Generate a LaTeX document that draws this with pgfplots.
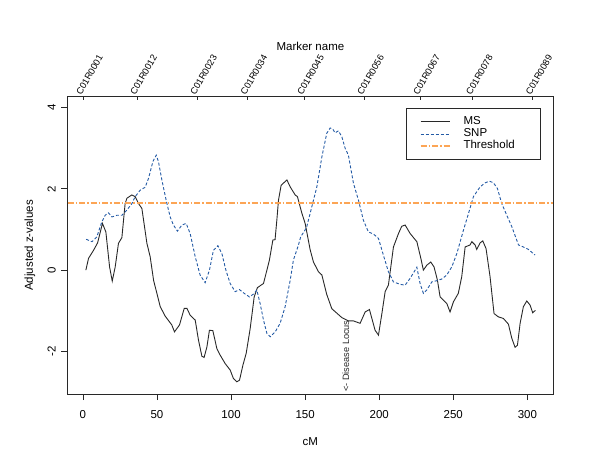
\documentclass[border=0pt]{standalone}
\usepackage{fontspec}
\setmainfont{Liberation Sans}
\usepackage{pgfplots}
\pgfplotsset{compat=1.18}
\definecolor{snpblue}{RGB}{35,90,165}
\definecolor{throrange}{RGB}{252,165,85}
\definecolor{rblack}{RGB}{40,40,40}
\begin{document}
\fontsize{11.5bp}{13.8bp}\selectfont
\begin{tikzpicture}
\begin{axis}[name=ax, scale only axis, width=485.8bp, height=297.3bp,
  xmin=-10.4, xmax=317.5, ymin=-3.05, ymax=4.27,
  axis line style={line width=0.8bp, rblack},
  xtick={0,50,...,300}, ytick={-2,0,2,4},
  xtick pos=lower, ytick pos=left, tick align=outside, major tick length=6bp,
  tick style={line width=0.8bp, rblack},
  /pgf/number format/assume math mode=true,
  ticklabel style={font=\fontsize{11.5bp}{13.8bp}\selectfont},
  xticklabel style={anchor=center, yshift=-14.3bp},
  yticklabel style={anchor=center, xshift=-9.8bp, rotate=90},
  xlabel={cM}, ylabel={Adjusted z-values},
  xlabel style={at={(axis description cs:0.5,-0.1615)}, anchor=center},
  ylabel style={at={(axis description cs:-0.0776,0.5)}, anchor=center},
  legend style={at={(0.974,0.961)}, anchor=north east, draw=rblack, line width=0.8bp,
    inner xsep=13.7bp, inner ysep=7bp, column sep=13bp, row sep=0pt,
    nodes={inner sep=0pt, text height=8.5bp, text depth=3.7bp, text width=63bp, align=left},
    font=\fontsize{11.5bp}{13.8bp}\selectfont},
  legend cell align=left,
  legend image code/.code={\draw[#1] (0bp,0bp) -- (29bp,0bp);},
]
\addplot[rblack, line width=0.9bp] coordinates {
(2.0,0.0) (3.8,0.29) (7.2,0.49) (9.9,0.67) (13.2,1.15) (15.5,0.94) (18,0.08) (19.8,-0.27)
(21.8,0.08) (24,0.66) (26.3,0.8) (28.5,1.64) (29.7,1.77) (33,1.85) (35.3,1.81) (37.5,1.64)
(39.8,1.52) (43.2,0.66) (45.4,0.33) (47.7,-0.25) (52.2,-0.9) (55.5,-1.13) (60,-1.35)
(61.8,-1.52) (65.2,-1.35) (68.4,-0.94) (70.2,-0.94) (72.4,-1.11) (75.8,-1.23) (78,-1.72)
(80.3,-2.12) (81.8,-2.15) (83.7,-1.89) (85.4,-1.48) (87.7,-1.49) (90.4,-1.93) (92.6,-2.09)
(96,-2.3) (99.4,-2.46) (101.6,-2.67) (103.9,-2.75) (105.7,-2.71) (108,-2.34) (110.2,-2.05)
(112.9,-1.44) (115.6,-0.66) (117.8,-0.43) (121.9,-0.33) (125.9,0.25) (128.2,0.74)
(129.7,0.75) (130.9,1.23) (132,1.72) (133.8,2.09) (137.7,2.22) (139.9,2.05) (143.3,1.85)
(144.8,1.81) (147.8,1.4) (150,1.15) (153.4,0.5) (155.6,0.2) (159,-0.04) (161.3,-0.12)
(164.6,-0.6) (168,-0.95) (174.8,-1.17) (179.2,-1.25) (182.6,-1.25) (187.1,-1.31)
(190.5,-1.03) (193.4,-0.97) (197.2,-1.48) (199.5,-1.6) (201.8,-1.07) (204,-0.53)
(206.2,-0.37) (209.6,0.57) (213,0.9) (215.2,1.08) (217.5,1.11) (220.9,0.9) (225.4,0.7)
(228.1,0.29) (229.8,0) (232.1,0.12) (234.8,0.2) (237,0.08) (239.3,-0.25) (241.1,-0.66)
(245.6,-0.82) (247.8,-1.03) (250.1,-0.78) (253.4,-0.57) (255.7,-0.16) (258,0.57)
(261.3,0.62) (262.5,0.7) (264.7,0.62) (265.8,0.51) (268.1,0.67) (269.9,0.72) (272.1,0.53)
(274.8,-0.16) (277.5,-1.07) (280.4,-1.15) (283.8,-1.19) (287.2,-1.33) (289.5,-1.68)
(291.7,-1.9) (293.3,-1.85) (295.1,-1.31) (297.3,-0.9) (299.6,-0.76) (301.8,-0.86)
(303.6,-1.05) (305.4,-0.99)
};
\addlegendentry{MS}
\addplot[snpblue, line width=0.9bp, dash pattern=on 3bp off 2bp] coordinates {
(2.2,0.76) (6.1,0.7) (9.4,0.82) (12.8,1.19) (15,1.35) (17.3,1.41) (19.6,1.31) (22.9,1.35)
(26.3,1.35) (29.7,1.48) (33.1,1.64) (35.3,1.81) (38.7,1.97) (42,2.04) (44.3,2.26)
(47.2,2.67) (49.5,2.83) (51,2.67) (53.3,2.22) (56.2,1.72) (58.9,1.31) (61.1,1.11)
(63.8,0.96) (66.8,1.11) (69.7,1.15) (72.4,0.9) (75.8,0.33) (79.1,-0.12) (82.5,-0.31)
(85.4,0) (88.1,0.49) (91.1,0.6) (93.8,0.41) (96.5,0) (99.4,-0.33) (102.8,-0.53)
(105.7,-0.48) (108.4,-0.56) (112.4,-0.66) (115.1,-0.59) (117.4,-0.49) (119.6,-0.82)
(121.9,-1.23) (124.2,-1.56) (126.4,-1.64) (129.8,-1.52) (133.1,-1.31) (136.5,-0.9)
(139.9,-0.25) (142.1,0.25) (145.5,0.62) (147,0.82) (150,0.99) (151.1,1.07) (154.5,1.56)
(157.9,2.05) (161.3,2.79) (164.6,3.37) (166.9,3.5) (168.7,3.47) (170.2,3.38) (172.5,3.43)
(174.8,3.28) (177,3.0) (179.2,2.83) (182.6,2.14) (186,1.72) (189.3,1.23) (192.7,0.94)
(196.1,0.89) (199.5,0.78) (202.8,0.37) (206.2,-0.04) (209.6,-0.29) (214.1,-0.35)
(217.5,-0.37) (220.9,-0.2) (225.4,0.07) (227.6,-0.33) (229.8,-0.57) (232.1,-0.49)
(235.5,-0.29) (238.9,-0.26) (242.2,-0.22) (245.6,-0.12) (249,0.08) (252.4,0.41)
(256.9,0.99) (260.3,1.4) (263.6,1.81) (268.1,2.05) (271.5,2.15) (274.4,2.19) (277.1,2.15)
(279.8,2.01) (282.7,1.64) (286.1,1.35) (289.5,1.07) (294,0.62) (297.3,0.57) (300.7,0.51)
(305.2,0.37)
};
\addlegendentry{SNP}
\addplot[draw=throrange, line width=1.9bp, dash pattern=on 6bp off 2bp on 1.5bp off 2bp] coordinates {(-10.4,1.645) (317.5,1.645)};
\addlegendentry{Threshold}
\node[rotate=90, anchor=base west, inner sep=0pt, font=\fontsize{9.2bp}{11bp}\selectfont, rblack] at (axis cs:179.7,-3.0) {<- Disease Locus};
\end{axis}
\begin{axis}[scale only axis, width=485.8bp, height=297.3bp,
  xmin=-10.4, xmax=317.5, ymin=-3.05, ymax=4.27,
  axis x line*=top, axis y line=none,
  axis line style={line width=0.8bp, rblack, -},
  xtick={0,36.5,77,111,149.2,189.7,227.5,263.2,303.4},
  xticklabels={C01R0001,C01R0012,C01R0023,C01R0034,C01R0045,C01R0056,C01R0067,C01R0078,C01R0089},
  tick align=inside, major tick length=3bp, tick style={line width=0.8bp, rblack},
  xticklabel style={rotate=60, anchor=base west, font=\fontsize{9.2bp}{11bp}\selectfont, inner sep=0pt, yshift=2bp},
  every axis title shift=0pt,
  title={Marker name},
  title style={at={(axis description cs:0.5,1.1705)}, anchor=center, font=\fontsize{11.5bp}{13.8bp}\selectfont},
]
\end{axis}
\pgfresetboundingbox
\path[use as bounding box] ([xshift=-67.5bp,yshift=-61bp]ax.south west) rectangle ([xshift=46.7bp,yshift=96.7bp]ax.north east);
\end{tikzpicture}
\end{document}
